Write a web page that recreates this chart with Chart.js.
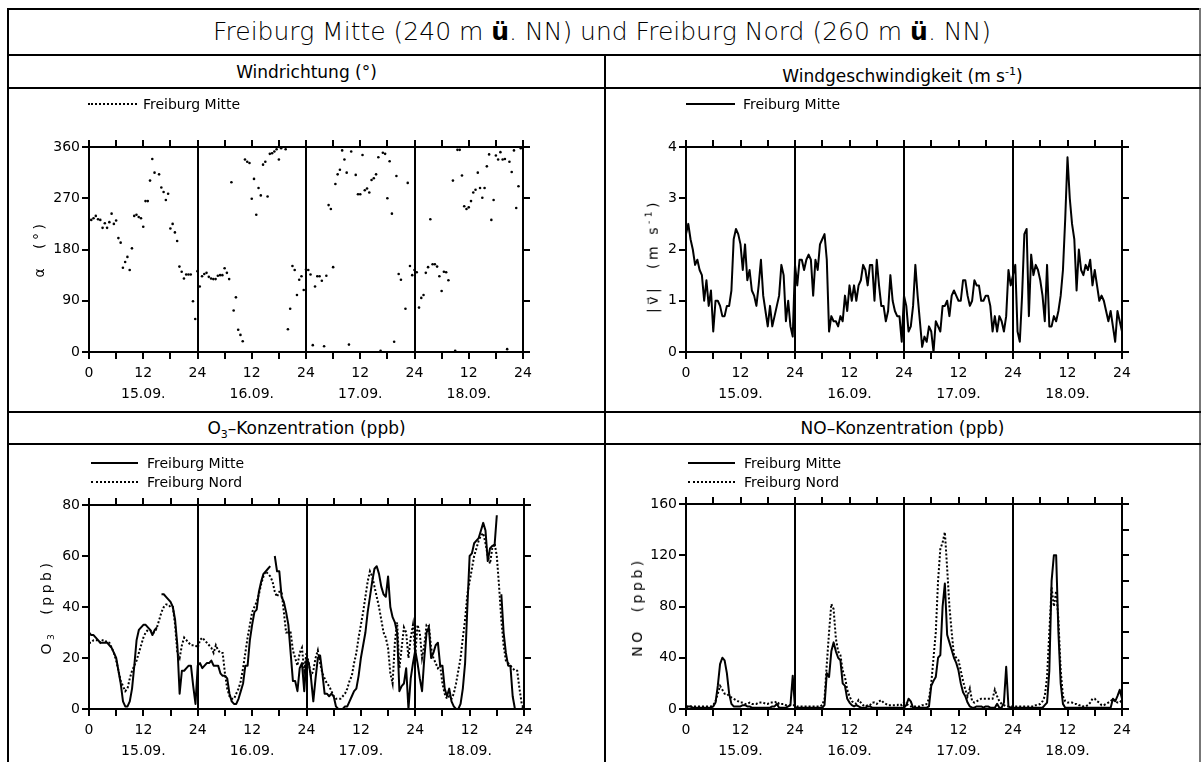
<!DOCTYPE html>
<html>
<head>
<meta charset="utf-8">
<script src="https://cdn.jsdelivr.net/npm/chart.js"></script>
<style>
  body { margin: 0; background: #fff; font-family: "DejaVu Sans", sans-serif; color: #000; }
  #page { position: relative; width: 1202px; height: 762px; overflow: hidden; background: #fff; }
  .rule { position: absolute; background: #000; }
  .txt { position: absolute; white-space: nowrap; }
  .head { font-weight: 200; }
  .ytitle { position: absolute; white-space: nowrap; font-size: 14px; letter-spacing: 3.5px;
            transform: translate(-50%, -50%) rotate(-90deg); }
  .leg { position: absolute; height: 0; }
  .legtxt { position: absolute; white-space: nowrap; font-size: 14px; line-height: 16px; }
  canvas { position: absolute; }
  sub, sup { font-size: 65%; }
  b { font-weight: 700; }
</style>
</head>
<body>
<div id="page">
  <!-- frame and dividers -->
  <div class="rule" style="left:7px;top:8px;width:1194px;height:2px"></div>
  <div class="rule" style="left:7px;top:8px;width:2px;height:754px"></div>
  <div class="rule" style="left:1199px;top:8px;width:2px;height:754px;background:#777"></div>
  <div class="rule" style="left:7px;top:54px;width:1194px;height:2px"></div>
  <div class="rule" style="left:7px;top:87px;width:1194px;height:2px"></div>
  <div class="rule" style="left:7px;top:411px;width:1194px;height:2px"></div>
  <div class="rule" style="left:7px;top:443px;width:1194px;height:2px"></div>
  <div class="rule" style="left:604px;top:54px;width:2px;height:708px"></div>

  <div class="txt head" style="left:0;width:1204px;top:16px;line-height:32px;text-align:center;font-size:25px">Freiburg Mitte (240 m <b>ü</b>. NN) und Freiburg Nord (260 m <b>ü</b>. NN)</div>
  <div class="txt" style="left:9px;width:595px;top:60px;line-height:24px;text-align:center;font-size:17px">Windrichtung (°)</div>
  <div class="txt" style="left:606px;width:593px;top:60px;line-height:24px;text-align:center;font-size:17px">Windgeschwindigkeit (m s<sup>-1</sup>)</div>
  <div class="txt" style="left:9px;width:595px;top:416px;line-height:24px;text-align:center;font-size:17px">O<sub>3</sub>–Konzentration (ppb)</div>
  <div class="txt" style="left:606px;width:593px;top:416px;line-height:24px;text-align:center;font-size:17px">NO–Konzentration (ppb)</div>

  <canvas id="cDir" width="595" height="322" style="left:9px;top:89px"></canvas>
  <canvas id="cSpeed" width="595" height="322" style="left:606px;top:89px"></canvas>
  <canvas id="cO3" width="595" height="317" style="left:9px;top:445px"></canvas>
  <canvas id="cNO" width="595" height="317" style="left:606px;top:445px"></canvas>

  <!-- legends -->
  <div class="leg" style="left:88px;top:103px;width:49px;border-top:2px dotted #000"></div>
  <div class="legtxt" style="left:143px;top:96px">Freiburg Mitte</div>
  <div class="leg" style="left:686px;top:103px;width:49px;border-top:2px solid #000"></div>
  <div class="legtxt" style="left:743px;top:96px">Freiburg Mitte</div>
  <div class="leg" style="left:91px;top:462px;width:47px;border-top:2px solid #000"></div>
  <div class="legtxt" style="left:147px;top:455px">Freiburg Mitte</div>
  <div class="leg" style="left:91px;top:481px;width:47px;border-top:2px dotted #000"></div>
  <div class="legtxt" style="left:147px;top:474px">Freiburg Nord</div>
  <div class="leg" style="left:688px;top:462px;width:47px;border-top:2px solid #000"></div>
  <div class="legtxt" style="left:744px;top:455px">Freiburg Mitte</div>
  <div class="leg" style="left:688px;top:481px;width:47px;border-top:2px dotted #000"></div>
  <div class="legtxt" style="left:744px;top:474px">Freiburg Nord</div>

  <!-- y axis titles -->
  <div class="ytitle" style="left:39px;top:249px">α&nbsp;&nbsp;(°)</div>
  <div class="ytitle" style="left:652px;top:256px">|v&#x20D7;|&nbsp;&nbsp;(m&nbsp;s<sup>-1</sup>)</div>
  <div class="ytitle" style="left:47px;top:607px">O<sub>3</sub>&nbsp;&nbsp;(ppb)</div>
  <div class="ytitle" style="left:637px;top:607px">NO&nbsp;&nbsp;(ppb)</div>
</div>

<script>
const FONT = '"DejaVu Sans", sans-serif';
Chart.defaults.font.family = FONT;
Chart.defaults.font.size = 14;
Chart.defaults.color = '#000';

// half-hourly values, 0 .. 96 h (15.09. 00:00 to 19.09. 00:00)
const hourStep = 0.5;
const dayLabels = ['15.09.', '16.09.', '17.09.', '18.09.'];

const windDirMitte = [
  null, 232, 235, 239, 233, 232, 218, 226, 218, 228, 243, 225, 231, 200, 192, 148, 158, 167, 144, 182, 239,
  241, 237, 235, 220, 265, 265, 301, 339, 315, null, 312, 289, 281, 267, 278, 217, 225, 210, 195, 150,
  141, 129, 136, 136, 136, 89, 58,
  142,
  115, 133, 137, 139, 132, 129, 128, 128, 134, 135, 135, 147, 139, 128, 298, 73, 96, 39, 30, 19,
  338, 334, 332, 269, 304, 241, 288, 275, 329, 334, 273, 348, 349, 352, 356, 338, 358, null, 356, 40,
  76, 151, 144, 100, 127, 133, 109,
  145,
  144, 136, 12, 115, 133, 133, 125, 10, 134, 258, 251, 149, 295, 312, 320, 354, 338, 315, 13, 352,
  null, 311, 277, 277, 346, 284, 287, 280, 302, 305, 312, 342, 2, 350, 348, 270, 335, 243, 18, 309,
  137, 127, null, 76, 297, 151, 135,
  144, 140, 78, 95, 100, 139, 149, 233, 154, 154, 150, 133, 107, 141, 140, 126, null, 301, 2, 355,
  355, 310, 256, 251, 254, 265, 280, 285, 315, 288, 271, 288, 326, 347, 232, 267, 345, 338, 351, 338,
  339, 5, 334, 316, 354, 253, 291, 358,
  null
];

const windSpeedMitte = [
  2.3, 2.5, 2.2, 2.0, 1.7, 1.8, 1.6, 1.5, 1.0, 1.4, 0.9, 1.2, 0.4, 1.0, 1.0, 0.9, 0.7, 0.7, 0.9, 0.9,
  1.2, 2.2, 2.4, 2.3, 2.1, 1.6, 2.1, 1.4, 1.6, 1.2, 1.1, 0.9, 1.3, 1.8, 1.1, 0.8, 0.5, 0.9, 0.5, 0.7,
  0.9, 1.1, 1.7, 1.5, 0.6, 1.0, 0.5, 0.3,
  1.7, 1.3, 1.8, 1.8, 1.6, 1.8, 1.9, 1.8, 1.1, 1.8, 1.6, 2.1, 2.2, 2.3, 1.8, 0.4, 0.7, 0.6, 0.6, 0.5,
  0.7, 0.6, 1.1, 0.8, 1.3, 1.0, 1.3, 1.0, 1.3, 1.4, 1.7, 1.6, 1.3, 1.7, 1.7, 1.0, 1.8, 1.3, 0.9, 0.9,
  0.6, 0.8, 1.5, 1.0, 0.8, 0.7, 0.7, 0.2,
  1.1, 0.9, 0.4, 0.5, 0.9, 1.7, 1.1, 0.6, 0.1, 0.3, 0.2, 0.5, 0.4, 0.0, 0.6, 0.5, 0.4, 0.9, 0.9, 1.0,
  0.7, 1.1, 1.2, 1.1, 1.0, 1.0, 1.4, 1.4, 1.1, 0.9, 1.0, 1.4, 1.3, 1.3, 1.0, 1.0, 1.1, 1.1, 0.9, 0.4,
  0.7, 0.4, 0.7, 0.6, 0.4, 0.7, 1.6, 1.3,
  1.5, 1.7, 0.4, 0.2, 1.1, 2.3, 2.4, 0.7, 1.9, 1.5, 1.7, 1.6, 1.4, 1.1, 0.6, 1.7, 0.5, 0.5, 0.7, 0.6,
  0.8, 1.1, 1.6, 2.6, 3.8, 3.0, 2.5, 2.2, 1.2, 2.0, 1.6, 1.5, 1.7, 1.6, 1.8, 1.3, 1.6, 1.3, 1.0, 1.1,
  1.0, 0.8, 0.6, 0.8, 0.5, 0.2, 0.8, 0.6, 0.4
];

const o3Mitte = [
  30, 29, 29, 28, 27, 26, 26, 26, 26, 25, 24, 22, 20, 15, 10, 3, 1, 1, 3, 8,
  17, 27, 31, 32, 33, 33, 32, 31, 29, 31, 32, null, 45, 45, 44, 43, 42, 40, 35, 25,
  6, 15, 15, 16, 17, 17, 9, 2,
  17, 18, 16, 17, 18, 18, 19, 17, 17, 17, 14, 13, 13, 12, 6, 3, 2, 2, 4, 7,
  10, 17, 17, 27, 33, 38, 39, 46, 50, 53, 54, 55, 56, null, 60, 54, 54, 44, 42, 38,
  33, 22, 11, 11, 7, 16, 18, 7,
  20, 18, 12, 3, 12, 20, 21, 14, 6, 6, 5, 6, 5, 1, 0, 0, 0, 1, 1, 3,
  5, 7, 8, 13, 20, 25, 30, 38, 44, 50, 55, 56, 53, 48, 45, 44, 52, 40, 36, 34,
  30, 7, 9, 10, 16, 0, 12, 18,
  23, 18, 12, 7, 20, 30, 32, 20, 22, 25, 26, 17, 17, 8, 5, 8, 3, 1, 0, 0,
  2, 8, 18, 40, 60, 61, 65, 66, 67, 70, 73, 70, 58, 63, 64, 64, 76, null, 45, 30,
  22, 17, 17, 5, 0, 0, 0, 0, 1
];

const o3Nord = [
  26, 26, 27, 27, 27, 26, 27, 27, 26, 26, 24, 22, 19, 15, 11, 9, 7, 8, 12, 15,
  17, 19, 22, 25, 28, 30, 31, 31, 30, 30, 32, 35, 38, 40, 41, 41, 40, 40, 33, 22,
  20, 25, 28, 27, 26, 25, 25, 25,
  24, 27, 28, 27, 26, 25, 24, 22, 25, 23, 22, 22, 14, 8, 5, 4, 4, 6, 8, 11,
  16, 22, 28, 33, 38, 40, 42, 45, 49, 52, 54, 53, 52, 50, 46, 44, 46, 46, 38, 30,
  30, 30, 23, 20, 17, 22, 24, 15,
  22, 18, 13, 15, 20, 23, 18, 14, 12, 10, 9, 7, 5, 4, 4, 4, 5, 6, 8, 11,
  13, 18, 22, 28, 33, 38, 44, 50, 54, 52, 48, 44, 40, 35, 30, 28, 24, 14, 10, 26,
  34, 16, 24, 32, 30, 20, 28, 33,
  21, 33, 30, 20, 25, 33, 33, 24, 20, 18, 16, 17, 10, 6, 4, 5, 4, 6, 10, 15,
  20, 28, 35, 45, 50, 55, 60, 63, 66, 68, 69, 65, 60, 57, 63, 65, 60, 48, 35, 25,
  19, 18, 17, 16, 15, 15, 8, 2, 0
];

const noMitte = [
  1, 2, 2, 1, 1, 1, 1, 1, 1, 1, 1, 1, 2, 5, 18, 35, 40, 38, 28, 12,
  4, 2, 2, 2, 2, 3, 3, 2, 2, 1, 1, 1, 1, 1, 1, 1, 1, 1, 2, 2,
  4, 1, 1, 1, 1, 2, 3, 26,
  1, 1, 1, 1, 1, 1, 1, 1, 1, 1, 1, 1, 1, 3, 28, 25, 45, 52, 45, 40,
  38, 20, 18, 8, 5, 3, 2, 3, 2, 1, 1, 1, 2, 2, 1, 1, 1, 1, 1, 1,
  1, 1, 1, 1, 1, 1, 1, 1,
  1, 3, 8, 6, 1, 1, 1, 1, 1, 1, 1, 2, 18, 22, 25, 40, 42, 80, 98, 58,
  52, 46, 40, 36, 30, 20, 13, 10, 5, 2, 1, 1, 2, 2, 2, 1, 2, 2, 1, 1,
  1, 4, 1, 1, 5, 33, 2, 1,
  1, 1, 1, 1, 1, 1, 1, 1, 1, 1, 1, 1, 1, 1, 3, 5, 30, 100, 120, 120,
  60, 20, 4, 1, 1, 1, 1, 1, 1, 1, 1, 1, 1, 1, 1, 1, 1, 1, 1, 1,
  1, 1, 1, 1, 8, 6, 10, 15, 8
];

const noNord = [
  2, 2, 2, 2, 2, 2, 2, 2, 2, 2, 2, 2, 3, 6, 12, 18, 15, 12, 12, 10,
  9, 8, 7, 6, 5, 5, 4, 4, 5, 4, 4, 4, 5, 5, 5, 4, 4, 5, 5, 5,
  6, 4, 4, 4, 3, 3, 3, 3,
  3, 2, 2, 2, 2, 2, 2, 2, 2, 2, 2, 2, 3, 8, 35, 60, 82, 78, 55, 45,
  42, 30, 25, 15, 10, 6, 5, 4, 7, 5, 3, 2, 3, 3, 5, 5, 4, 6, 7, 5,
  4, 3, 3, 3, 3, 3, 4, 3,
  5, 4, 3, 2, 2, 2, 2, 2, 3, 3, 4, 8, 20, 40, 60, 100, 125, 130, 138, 110,
  80, 60, 42, 40, 38, 30, 22, 15, 10, 16, 6, 5, 6, 7, 8, 8, 8, 8, 8, 8,
  15, 10, 6, 4, 3, 2, 2, 2,
  2, 2, 2, 2, 2, 2, 2, 2, 2, 2, 3, 3, 4, 6, 10, 25, 60, 95, 80, 92,
  70, 30, 10, 6, 5, 5, 5, 4, 4, 3, 3, 2, 2, 3, 5, 8, 8, 6, 5, 3,
  3, 4, 5, 6, 8, 6, 5, 5, 7
];

const toPoints = arr => arr.map((v, i) => ({ x: i * hourStep, y: v }));

function hourLabel(value) {
  if (value % 12 !== 0) return '';
  if (value === 0) return '0';
  if (value % 24 === 0) return '24';
  return ['12', dayLabels[Math.floor(value / 24)]];
}

function dayLineColor(ctx) {
  const v = ctx.tick ? ctx.tick.value : 0;
  return v % 24 === 0 ? '#000' : 'rgba(0,0,0,0)';
}

// area: chart area inside the canvas (left edge is always 80)
function makePanel(canvasId, datasets, area, yMin, yMax, yStep, yStepRight) {
  const canvas = document.getElementById(canvasId);
  const frame = { display: true, color: '#000', width: 2 };
  const outerTicks = { drawOnChartArea: false, tickLength: 7, color: '#000', lineWidth: 2 };

  return new Chart(canvas, {
    type: 'line',
    data: { datasets: datasets },
    options: {
      responsive: false,
      animation: false,
      devicePixelRatio: 1,
      layout: { padding: { left: 0, bottom: 0, top: area.top - 7, right: canvas.width - area.right - 7 } },
      plugins: { legend: { display: false }, tooltip: { enabled: false } },
      scales: {
        x: {
          type: 'linear', position: 'bottom', min: 0, max: 96,
          ticks: { stepSize: 6, autoSkip: false, maxRotation: 0, padding: 4,
                   font: { size: 14, lineHeight: 1.5 }, callback: hourLabel },
          grid: { color: dayLineColor, lineWidth: 2, tickLength: 7, tickColor: '#000', tickWidth: 2 },
          border: frame,
          afterFit: s => { s.height = canvas.height - area.bottom; }
        },
        xTop: {
          type: 'linear', position: 'top', min: 0, max: 96,
          ticks: { stepSize: 6, display: false },
          grid: outerTicks,
          border: frame,
          afterFit: s => { s.height = 7; }
        },
        y: {
          position: 'left', min: yMin, max: yMax,
          ticks: { stepSize: yStep, padding: 2 },
          grid: outerTicks,
          border: frame,
          afterFit: s => { s.width = 80; }
        },
        yRight: {
          position: 'right', min: yMin, max: yMax,
          ticks: { stepSize: yStepRight, display: false },
          grid: outerTicks,
          border: frame,
          afterFit: s => { s.width = 7; }
        }
      }
    }
  });
}

const solid = { borderColor: '#000', borderWidth: 2, pointRadius: 0, borderJoinStyle: 'round' };
const dotted = { borderColor: '#000', borderWidth: 2, pointRadius: 0, borderDash: [2, 2] };

makePanel('cDir', [{
  label: 'Freiburg Mitte', data: toPoints(windDirMitte), showLine: false,
  pointRadius: 1.3, pointBackgroundColor: '#000', pointBorderWidth: 0, clip: false
}], { top: 58, bottom: 263, right: 514 }, 0, 360, 90, 90);

makePanel('cSpeed', [
  Object.assign({ label: 'Freiburg Mitte', data: toPoints(windSpeedMitte) }, solid)
], { top: 58, bottom: 263, right: 516 }, 0, 4, 1, 1);

makePanel('cO3', [
  Object.assign({ label: 'Freiburg Mitte', data: toPoints(o3Mitte) }, solid),
  Object.assign({ label: 'Freiburg Nord', data: toPoints(o3Nord) }, dotted)
], { top: 60, bottom: 264, right: 515 }, 0, 80, 20, 20);

makePanel('cNO', [
  Object.assign({ label: 'Freiburg Mitte', data: toPoints(noMitte) }, solid),
  Object.assign({ label: 'Freiburg Nord', data: toPoints(noNord) }, dotted)
], { top: 59, bottom: 264, right: 516 }, 0, 160, 40, 20);
</script>
</body>
</html>
